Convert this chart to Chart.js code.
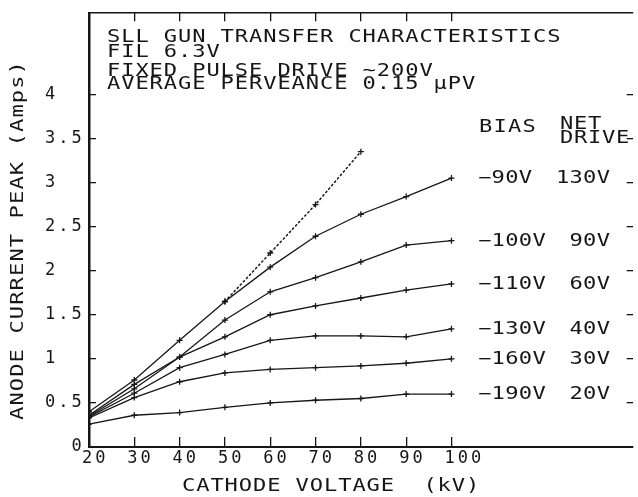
<!DOCTYPE html>
<html>
<head>
<meta charset="utf-8">
<script src="https://cdn.jsdelivr.net/npm/chart.js@4.4.1/dist/chart.umd.min.js"></script>
<style>
  html, body { margin: 0; padding: 0; background: #fff; }
  #wrap { width: 638px; height: 497px; }
</style>
</head>
<body>
<div id="wrap"><canvas id="c" width="638" height="497"></canvas></div>
<script>
// cathode voltage (kV) and peak anode current (A) per grid bias
const kv = [20, 30, 40, 50, 60, 70, 80, 90, 100];
const bias90  = [0.40, 0.76, 1.21, 1.65, 2.04, 2.39, 2.64, 2.84, 3.05];
const bias100 = [0.36, 0.71, 1.02, 1.44, 1.76, 1.92, 2.10, 2.29, 2.34];
const bias110 = [0.35, 0.66, 1.02, 1.25, 1.50, 1.60, 1.69, 1.78, 1.85];
const bias130 = [0.34, 0.61, 0.90, 1.05, 1.21, 1.26, 1.26, 1.25, 1.34];
const bias160 = [0.33, 0.56, 0.74, 0.84, 0.88, 0.90, 0.92, 0.95, 1.00];
const bias190 = [0.26, 0.36, 0.39, 0.45, 0.50, 0.53, 0.55, 0.60, 0.60];
// perveance limit, dotted
const perveance = [null, null, null, 1.65, 2.20, 2.75, 3.35, null, null];

const biasLabels = ["\u221290V", "\u2212100V", "\u2212110V", "\u2212130V", "\u2212160V", "\u2212190V"];
const netDrive = ["130V", "90V", "60V", "40V", "30V", "20V"];

const xTicks = [20, 30, 40, 50, 60, 70, 80, 90, 100];
const yTicks = [0, 0.5, 1, 1.5, 2, 2.5, 3, 3.5, 4];

const titleLines = [
  "SLL GUN TRANSFER CHARACTERISTICS",
  "FIL 6.3V",
  "FIXED PULSE DRIVE ~200V",
  "AVERAGE PERVEANCE 0.15 \u00b5PV",
];

const INK = "#161616";
const MONO = '"DejaVu Sans Mono", "Liberation Mono", monospace';

const pts = (arr) => kv.map((x, i) => ({ x, y: arr[i] }));

// texte façon traceur : cellules fixes, glyphes étirés
function plotText(ctx, text, x, y, o = {}) {
  const size = o.size || 17, cell = o.cell || 14.2, sx = o.sx || 1.3;
  ctx.save();
  ctx.letterSpacing = "0px";
  ctx.font = `${size}px ${MONO}`;
  const adv = ctx.measureText("M").width;
  const w = text.length * cell - (cell - adv * sx);
  ctx.letterSpacing = (cell / sx - adv) + "px";
  ctx.fillStyle = INK;
  ctx.textBaseline = "alphabetic";
  ctx.textAlign = "left";
  ctx.translate(x, y);
  if (o.rotate) ctx.rotate(-Math.PI / 2);
  if (o.align === "right") ctx.translate(-w, 0);
  ctx.scale(sx, 1);
  ctx.fillText(text, 0, 0);
  ctx.restore();
}

const annotations = {
  id: "annotations",
  beforeDraw(chart) {
    chart.ctx.letterSpacing = "3px";
  },
  afterDraw(chart) {
    const ctx = chart.ctx;
    const y = chart.scales.y;
    plotText(ctx, titleLines[0], 107, 42);
    plotText(ctx, titleLines[1], 107, 57);
    plotText(ctx, titleLines[2], 107, 76);
    plotText(ctx, titleLines[3], 107, 89);

    plotText(ctx, "BIAS", 479, 132, { cell: 14.5 });
    plotText(ctx, "NET", 560, 129, { cell: 14 });
    plotText(ctx, "DRIVE", 560, 143, { cell: 14 });

    chart.data.datasets.slice(0, 6).forEach((ds, i) => {
      const last = ds.data[ds.data.length - 1].y;
      const py = y.getPixelForValue(last) + 5;
      plotText(ctx, biasLabels[i], 478, py, { cell: 13.6 });
      plotText(ctx, netDrive[i], 610, py, { cell: 13.6, align: "right" });
    });

    plotText(ctx, "ANODE CURRENT PEAK (Amps)", 23, 420, { rotate: true, cell: 14.4 });
    plotText(ctx, "CATHODE VOLTAGE  (kV)", 182, 491, { cell: 14.2 });
    ctx.letterSpacing = "0px";
  },
};

const lineDs = (arr) => ({
  data: pts(arr),
  borderColor: INK,
  borderWidth: 1.3,
  pointStyle: "cross",
  pointRadius: 3,
  pointBorderWidth: 1.3,
  pointBorderColor: INK,
  tension: 0,
  fill: false,
});

const datasets = [bias90, bias100, bias110, bias130, bias160, bias190].map(lineDs);
datasets.push({
  ...lineDs(perveance),
  borderDash: [1.5, 3],
  borderWidth: 1.5,
  spanGaps: false,
});

const tickGrid = (len) => ({
  drawOnChartArea: false,
  drawTicks: true,
  tickLength: len,
  color: INK,
  lineWidth: 1.3,
});

new Chart(document.getElementById("c"), {
  type: "line",
  data: { datasets },
  plugins: [annotations],
  options: {
    responsive: false,
    animation: false,
    layout: { padding: { left: 45, right: 0, top: 0, bottom: 0 } },
    plugins: { legend: { display: false }, tooltip: { enabled: false } },
    elements: { line: { borderCapStyle: "round" } },
    scales: {
      x: {
        type: "linear",
        position: "bottom",
        min: 20,
        max: 140,
        afterBuildTicks: (s) => { s.ticks = xTicks.map((v) => ({ value: v })); },
        afterFit: (s) => { s.height = 50; },
        grid: tickGrid(-10),
        border: { display: true, color: INK, width: 2 },
        ticks: {
          color: INK,
          font: { family: MONO, size: 17 },
          align: "start",
          labelOffset: -7,
          padding: 11,
          maxRotation: 0,
          autoSkip: false,
          callback: (v) => String(v),
        },
      },
      x2: {
        type: "linear",
        position: "top",
        min: 20,
        max: 140,
        afterBuildTicks: (s) => { s.ticks = xTicks.slice(1).map((v) => ({ value: v })); },
        afterFit: (s) => { s.height = 7; },
        grid: tickGrid(-8),
        border: { display: true, color: INK, width: 1.5 },
        ticks: { display: false },
      },
      y: {
        position: "left",
        min: 0,
        max: 4.92,
        afterBuildTicks: (s) => { s.ticks = yTicks.map((v) => ({ value: v })); },
        afterFit: (s) => { s.width = 44; },
        grid: tickGrid(-7),
        border: { display: true, color: INK, width: 2.5 },
        ticks: {
          color: INK,
          font: { family: MONO, size: 17 },
          crossAlign: "far",
          autoSkip: false,
          callback: (v) => (v === 0 ? "  0" : String(v)),
        },
      },
      y2: {
        position: "right",
        min: 0,
        max: 4.92,
        afterBuildTicks: (s) => { s.ticks = yTicks.slice(1).map((v) => ({ value: v })); },
        afterFit: (s) => { s.width = 1; },
        grid: tickGrid(-6),
        border: { display: false },
        ticks: { display: false },
      },
    },
  },
});
</script>
</body>
</html>
